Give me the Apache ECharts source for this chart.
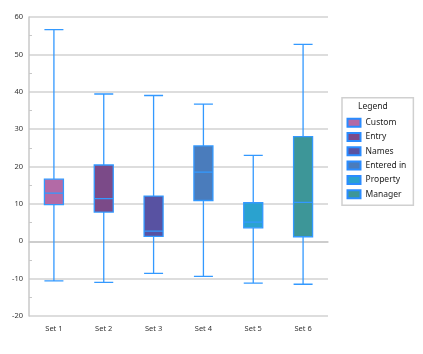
<!DOCTYPE html>
<html><head><meta charset="utf-8">
<script src="https://cdn.jsdelivr.net/npm/echarts@6/dist/echarts.min.js"></script>
<style>html,body{margin:0;padding:0;background:#fff}#c{width:423px;height:354px}</style>
</head><body><div id="c"></div>
<script>
const categories = ['Set 1','Set 2','Set 3','Set 4','Set 5','Set 6'];
const seriesNames = ['Custom','Entry','Names','Entered in','Property','Manager'];
const seriesColors = ['#b36aa6','#7b4a88','#5852a2','#4a7cbc','#2aa2cf','#3d9698'];
// [min, Q1, median, Q3, max]
const boxValues = [
  [-10.6, 9.8, 12.9, 16.6, 56.6],
  [-11.0, 7.8, 11.4, 20.4, 39.4],
  [-8.6, 1.3, 2.7, 12.1, 39.0],
  [-9.4, 10.9, 18.5, 25.5, 36.7],
  [-11.2, 3.6, 5.1, 10.3, 23.0],
  [-11.5, 1.2, 10.4, 28.0, 52.7]
];
const yMin = -20, yMax = 60, yInterval = 10;

const font = 'Noto Sans';
const chart = echarts.init(document.getElementById('c'), null, {renderer:'canvas'});
const legendSeries = seriesNames.map((n,i)=>({
  name:n, type:'bar', data:[], itemStyle:{color:seriesColors[i], borderColor:'#2a8cff', borderWidth:1}
}));
chart.setOption({
  animation:false,
  grid:{left:29, right:95, top:17, bottom:38},
  legend:{
    data:seriesNames, orient:'vertical', left:342, top:97.7,
    padding:[20,7,6,4.5], itemGap:4.3, itemWidth:13, itemHeight:8,
    borderColor:'#d0d0d0', borderWidth:1.5,
    textStyle:{fontFamily:font, fontSize:8.5, color:'#222', lineHeight:10},
    icon:'rect'
  },
  graphic:[{type:'text', left:358, top:102, style:{text:'Legend', font:'8.5px "Noto Sans"', fill:'#222'}}],
  xAxis:{
    type:'category', data:categories,
    axisLine:{lineStyle:{color:'#c8c8c8', width:1.5}},
    axisTick:{alignWithLabel:true, length:4, lineStyle:{color:'#c8c8c8'}},
    axisLabel:{fontFamily:font, fontSize:7.5, color:'#333', margin:9},
    splitLine:{show:false}
  },
  yAxis:{
    type:'value', min:yMin, max:yMax, interval:yInterval,
    axisLine:{show:true, lineStyle:{color:'#c8c8c8', width:1.5}},
    axisTick:{show:false, inside:true},
    minorTick:{show:true, splitNumber:2, length:3, lineStyle:{color:'#c8c8c8'}},
    axisLabel:{fontFamily:font, fontSize:7.5, color:'#333', margin:6},
    splitLine:{lineStyle:{color:'#d2d2d2', width:1.5}}
  },
  series:[{
    name:'box', type:'boxplot', boxWidth:[19,19],
    data: boxValues.map((v,i)=>({value:v, itemStyle:{color:seriesColors[i], borderColor:'#3399ff', borderWidth:1.3}})),
    emphasis:{disabled:true}
  }, ...legendSeries]
});
</script></body></html>
